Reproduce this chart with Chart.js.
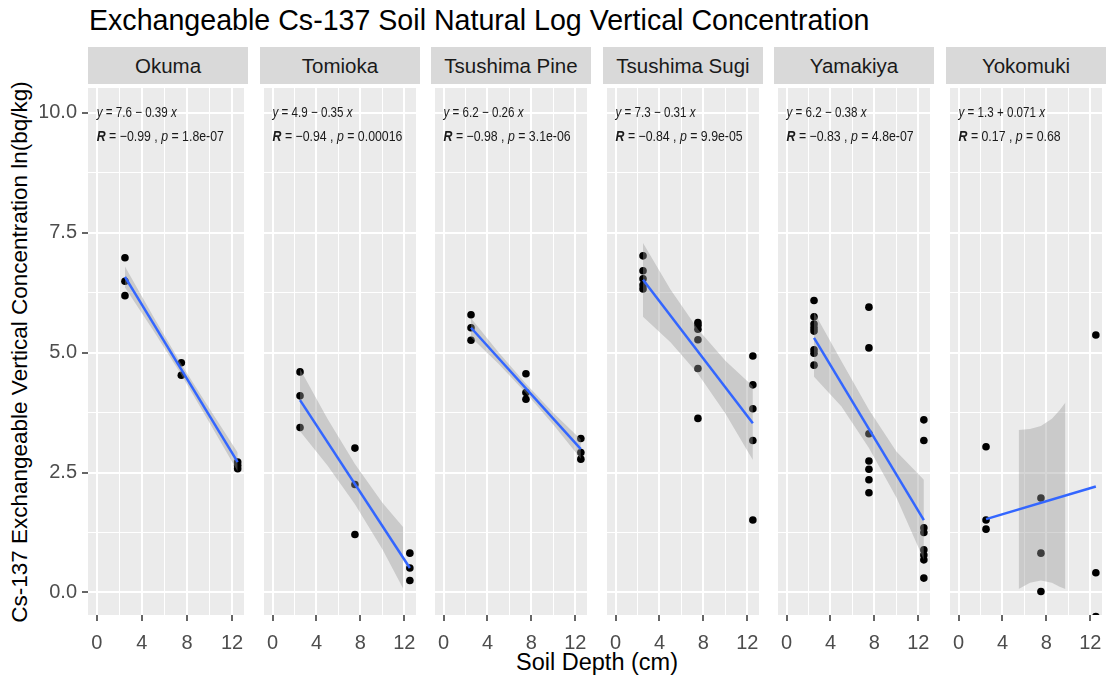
<!DOCTYPE html>
<html>
<head>
<meta charset="utf-8">
<script src="https://cdn.jsdelivr.net/npm/chart.js@4.4.1/dist/chart.umd.min.js"></script>
<style>
  body { margin: 0; background: #fff; width: 1110px; height: 680px; overflow: hidden; position: relative;
         font-family: "Liberation Sans", Arial, sans-serif; }
  #title { position: absolute; left: 89px; top: 5px; font-size: 28.6px; line-height: 30px; color: #000; white-space: nowrap; }
  .strip { position: absolute; top: 47px; height: 37px; width: 160px; background: #D9D9D9; color: #1A1A1A;
           font-size: 20.5px; line-height: 37px; text-align: center; white-space: nowrap; }
  #ytitle { position: absolute; left: 20px; top: 352px; transform: translate(-50%, -50%) rotate(-90deg);
            font-size: 22.5px; color: #000; white-space: nowrap; }
  #xtitle { position: absolute; left: 597px; top: 662px; transform: translate(-50%, -50%);
            font-size: 23.5px; color: #000; white-space: nowrap; }
  canvas { position: absolute; }
</style>
</head>
<body>
<div id="title">Exchangeable Cs-137 Soil Natural Log Vertical Concentration</div>
<div id="ytitle">Cs-137 Exchangeable Vertical Concentration ln(bq/kg)</div>
<div id="xtitle">Soil Depth (cm)</div>
<script>
// facet names
const sites = ['Okuma', 'Tomioka', 'Tsushima Pine', 'Tsushima Sugi', 'Yamakiya', 'Yokomuki'];

// measured points (depth in cm, ln concentration)
const okumaDepth = [2.5, 2.5, 2.5, 7.5, 7.5, 12.5, 12.5, 12.5];
const okumaLn = [6.98, 6.49, 6.19, 4.79, 4.53, 2.72, 2.65, 2.58];
const tomiokaDepth = [2.5, 2.5, 2.5, 7.5, 7.5, 7.5, 12.5, 12.5, 12.5];
const tomiokaLn = [4.60, 4.10, 3.44, 3.01, 2.25, 1.21, 0.82, 0.51, 0.25];
const pineDepth = [2.5, 2.5, 2.5, 7.5, 7.5, 7.5, 12.5, 12.5, 12.5];
const pineLn = [5.79, 5.52, 5.26, 4.56, 4.17, 4.03, 3.21, 2.92, 2.78];
const sugiDepth = [2.5, 2.5, 2.5, 2.5, 2.5, 7.5, 7.5, 7.5, 7.5, 7.5, 7.5, 12.5, 12.5, 12.5, 12.5, 12.5];
const sugiLn = [7.02, 6.71, 6.54, 6.41, 6.33, 5.63, 5.57, 5.49, 5.27, 4.67, 3.63, 4.93, 4.33, 3.83, 3.17, 1.51];
const yamakiyaDepth = [2.5, 2.5, 2.5, 2.5, 2.5, 2.5, 2.5, 2.5, 7.5, 7.5, 7.5, 7.5, 7.5, 7.5, 7.5,
                       12.5, 12.5, 12.5, 12.5, 12.5, 12.5, 12.5, 12.5];
const yamakiyaLn = [6.09, 5.75, 5.60, 5.52, 5.45, 5.06, 4.99, 4.74, 5.95, 5.10, 3.31, 2.74, 2.57, 2.35, 2.08,
                    3.60, 3.17, 1.35, 1.25, 0.89, 0.78, 0.68, 0.30];
const yokomukiDepth = [2.5, 2.5, 2.5, 7.5, 7.5, 7.5, 12.5, 12.5, 12.5];
const yokomukiLn = [3.04, 1.51, 1.32, 1.97, 0.82, 0.02, 5.37, 0.41, -0.50];

// fitted line ends
const fitDepth = [2.5, 12.5];
const fitStart = [6.58, 4.01, 5.52, 6.52, 5.31, 1.53];
const fitEnd = [2.72, 0.51, 2.99, 3.53, 1.51, 2.21];

// confidence band
const bandDepth = [2.5, 5, 7.5, 10, 12.5];
const okumaBandLow = [6.36, 5.47, 4.54, 3.54, 2.52];
const okumaBandHigh = [6.80, 5.76, 4.76, 3.83, 2.92];
const tomiokaBandDepth = [2.5, 5, 7.5, 10, 11.9];
const tomiokaBandLow = [3.36, 2.65, 1.84, 0.90, 0.08];
const tomiokaBandHigh = [4.66, 3.62, 2.68, 1.87, 1.36];
const pineBandLow = [5.32, 4.77, 4.16, 3.50, 2.79];
const pineBandHigh = [5.72, 5.01, 4.35, 3.74, 3.19];
const sugiBandLow = [5.75, 5.22, 4.56, 3.73, 2.76];
const sugiBandHigh = [7.29, 6.32, 5.49, 4.83, 4.30];
const yamakiyaBandLow = [4.50, 3.88, 3.01, 1.98, 0.68];
const yamakiyaBandHigh = [5.85, 4.82, 3.81, 2.94, 2.35];
const yokomukiBandDepth = [5.47, 6.5, 7.5, 8.5, 9.2, 9.73];
const yokomukiBandLow = [0.07, 0.20, 0.25, 0.20, 0.12, 0.07];
const yokomukiBandHigh = [3.39, 3.41, 3.47, 3.62, 3.80, 3.96];

// regression labels
const eqLabels = ['7.6 \u2212 0.39', '4.9 \u2212 0.35', '6.2 \u2212 0.26', '7.3 \u2212 0.31', '6.2 \u2212 0.38', '1.3 + 0.071'];
const rLabels = ['\u22120.99', '\u22120.94', '\u22120.98', '\u22120.84', '\u22120.83', '0.17'];
const pLabels = ['1.8e-07', '0.00016', '3.1e-06', '9.9e-05', '4.8e-07', '0.68'];

// axis ticks
const xMajor = [0, 4, 8, 12];
const xTickLabels = ['0', '4', '8', '12'];
const xMinor = [2, 6, 10];
const yMajor = [0, 2.5, 5, 7.5, 10];
const yTickLabels = ['0.0', '2.5', '5.0', '7.5', '10.0'];
const yMinor = [1.25, 3.75, 6.25, 8.75];

const pointDepths = [okumaDepth, tomiokaDepth, pineDepth, sugiDepth, yamakiyaDepth, yokomukiDepth];
const pointValues = [okumaLn, tomiokaLn, pineLn, sugiLn, yamakiyaLn, yokomukiLn];
const bandDepths = [bandDepth, tomiokaBandDepth, bandDepth, bandDepth, bandDepth, yokomukiBandDepth];
const bandLows = [okumaBandLow, tomiokaBandLow, pineBandLow, sugiBandLow, yamakiyaBandLow, yokomukiBandLow];
const bandHighs = [okumaBandHigh, tomiokaBandHigh, pineBandHigh, sugiBandHigh, yamakiyaBandHigh, yokomukiBandHigh];

// layout
const PANEL_LEFT = [88, 260, 431, 603, 774, 946];
const PANEL_TOP = 84;
const PANEL_W = 160;
const PANEL_H = 531;
const Y_AXIS_W = 48;
const X_AXIS_H = 45;
const FONT = '"Liberation Sans", Arial, sans-serif';

const xGrid = xMajor.concat(xMinor).sort((a, b) => a - b);
const yGrid = yMajor.concat(yMinor).sort((a, b) => a - b);

function pairs(xs, ys) {
    return xs.map((x, k) => ({ x: x, y: ys[k] }));
}

function drawParts(ctx, parts) {
    let cx = 0;
    parts.forEach(p => {
        ctx.font = p[1] + ' 14.5px ' + FONT;
        ctx.fillText(p[0], cx, 0);
        cx += ctx.measureText(p[0]).width;
    });
}

function noPad(s) {
    s.paddingTop = 0;
    s.paddingBottom = 0;
    s.paddingLeft = 0;
    s.paddingRight = 0;
}

sites.forEach((name, i) => {
    const strip = document.createElement('div');
    strip.className = 'strip';
    strip.style.left = PANEL_LEFT[i] + 'px';
    strip.textContent = name;
    document.body.appendChild(strip);

    const axisW = i === 0 ? Y_AXIS_W : 0;
    const canvas = document.createElement('canvas');
    canvas.width = PANEL_W + axisW;
    canvas.height = PANEL_H + X_AXIS_H;
    canvas.style.left = (PANEL_LEFT[i] - axisW) + 'px';
    canvas.style.top = PANEL_TOP + 'px';
    document.body.appendChild(canvas);

    const panelBg = {
        id: 'panelBg',
        beforeDraw(chart) {
            const a = chart.chartArea;
            chart.ctx.save();
            chart.ctx.fillStyle = '#EBEBEB';
            chart.ctx.fillRect(a.left, a.top, a.right - a.left, a.bottom - a.top);
            chart.ctx.restore();
        }
    };

    const statLabels = {
        id: 'statLabels',
        afterDatasetsDraw(chart) {
            const ctx = chart.ctx;
            const px = chart.scales.x.getPixelForValue(0);
            ctx.save();
            ctx.fillStyle = '#1A1A1A';
            ctx.textBaseline = 'middle';
            ctx.textAlign = 'left';
            ctx.translate(px, chart.scales.y.getPixelForValue(10));
            ctx.scale(0.8, 1);
            drawParts(ctx, [['y', 'italic'], [' = ' + eqLabels[i] + ' ', 'normal'], ['x', 'italic']]);
            ctx.restore();
            ctx.save();
            ctx.fillStyle = '#1A1A1A';
            ctx.textBaseline = 'middle';
            ctx.textAlign = 'left';
            ctx.translate(px, chart.scales.y.getPixelForValue(9.5));
            ctx.scale(0.85, 1);
            drawParts(ctx, [['R', 'italic bold'], [' = ' + rLabels[i] + ' , ', 'normal'], ['p', 'italic'], [' = ' + pLabels[i], 'normal']]);
            ctx.restore();
        }
    };

    new Chart(canvas, {
        type: 'scatter',
        data: {
            datasets: [
                {
                    type: 'line',
                    data: pairs(fitDepth, [fitStart[i], fitEnd[i]]),
                    borderColor: '#3366FF',
                    borderWidth: 2.5,
                    pointRadius: 0,
                    fill: false,
                    clip: 0,
                    order: 0
                },
                {
                    type: 'line',
                    data: pairs(bandDepths[i], bandHighs[i]),
                    borderWidth: 0,
                    borderColor: 'rgba(0,0,0,0)',
                    backgroundColor: 'rgba(153,153,153,0.4)',
                    pointRadius: 0,
                    fill: '+1',
                    clip: 0,
                    order: 1
                },
                {
                    type: 'line',
                    data: pairs(bandDepths[i], bandLows[i]),
                    borderWidth: 0,
                    borderColor: 'rgba(0,0,0,0)',
                    pointRadius: 0,
                    fill: false,
                    clip: 0,
                    order: 2
                },
                {
                    type: 'scatter',
                    data: pairs(pointDepths[i], pointValues[i]),
                    backgroundColor: '#000000',
                    borderWidth: 0,
                    pointRadius: 3.8,
                    clip: 0,
                    order: 3
                }
            ]
        },
        options: {
            responsive: false,
            animation: false,
            devicePixelRatio: 1,
            events: [],
            layout: { padding: 0 },
            plugins: { legend: { display: false }, tooltip: { enabled: false } },
            scales: {
                x: {
                    type: 'linear',
                    min: -0.78,
                    max: 13.06,
                    bounds: 'data',
                    afterBuildTicks: s => { s.ticks = xGrid.map(v => ({ value: v })); },
                    afterFit: s => { s.height = X_AXIS_H; noPad(s); },
                    border: { display: false },
                    grid: {
                        color: '#FFFFFF',
                        lineWidth: c => (c.tick && xMajor.includes(c.tick.value)) ? 2 : 1,
                        drawTicks: true,
                        tickLength: 6,
                        tickWidth: 1.5,
                        tickColor: c => (c.tick && xMajor.includes(c.tick.value)) ? '#333333' : 'rgba(0,0,0,0)'
                    },
                    ticks: {
                        autoSkip: false,
                        maxRotation: 0,
                        padding: 10,
                        color: '#4D4D4D',
                        font: { size: 20, family: FONT },
                        callback: v => { const k = xMajor.indexOf(v); return k < 0 ? '' : xTickLabels[k]; }
                    }
                },
                y: {
                    type: 'linear',
                    min: -0.47,
                    max: 10.52,
                    bounds: 'data',
                    afterBuildTicks: s => { s.ticks = yGrid.map(v => ({ value: v })); },
                    afterFit: s => { s.width = axisW; noPad(s); },
                    border: { display: false },
                    grid: {
                        color: '#FFFFFF',
                        lineWidth: c => (c.tick && yMajor.includes(c.tick.value)) ? 2 : 1,
                        drawTicks: i === 0,
                        tickLength: 6,
                        tickWidth: 1.5,
                        tickColor: c => (c.tick && yMajor.includes(c.tick.value)) ? '#333333' : 'rgba(0,0,0,0)'
                    },
                    ticks: {
                        display: i === 0,
                        autoSkip: false,
                        padding: 5,
                        color: '#4D4D4D',
                        font: { size: 20, family: FONT },
                        callback: v => { const k = yMajor.indexOf(v); return k < 0 ? '' : yTickLabels[k]; }
                    }
                }
            }
        },
        plugins: [panelBg, statLabels]
    });
});
</script>
</body>
</html>
